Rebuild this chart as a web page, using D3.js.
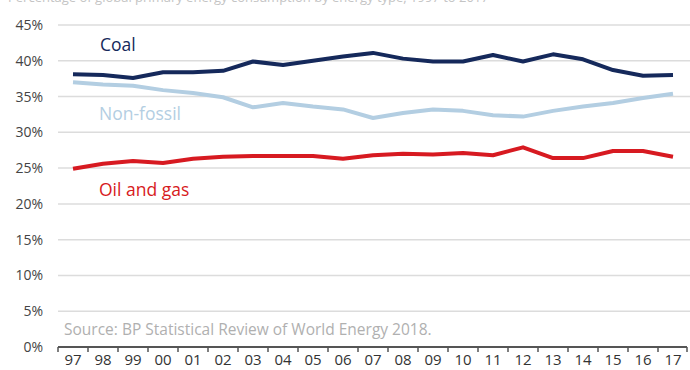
<!DOCTYPE html>
<html><head><meta charset="utf-8">
<script src="https://cdn.jsdelivr.net/npm/d3@7"></script>
<style>
html,body{margin:0;padding:0;background:#fff;}
svg{display:block;font-family:"Open Sans",sans-serif;}
</style></head>
<body><svg id="c" width="690" height="370"></svg>
<script>
const years = ["97","98","99","00","01","02","03","04","05","06","07","08","09","10","11","12","13","14","15","16","17"];
const coal = [38.1,38.0,37.6,38.4,38.4,38.6,39.9,39.4,40.0,40.6,41.1,40.3,39.9,39.9,40.8,39.9,40.9,40.2,38.7,37.9,38.0];
const nonFossil = [37.0,36.7,36.5,35.9,35.5,34.9,33.5,34.1,33.6,33.2,32.0,32.7,33.2,33.0,32.4,32.2,33.0,33.6,34.1,34.8,35.4];
const oilGas = [24.9,25.6,26.0,25.7,26.3,26.6,26.7,26.7,26.7,26.3,26.8,27.0,26.9,27.1,26.8,27.9,26.4,26.4,27.4,27.4,26.6];
const yTicks = [0,5,10,15,20,25,30,35,40,45];
const seriesNames = ["Coal","Non-fossil","Oil and gas"];
const seriesColors = ["#15295b","#b3cee2","#d71a21"];
const source = "Source: BP Statistical Review of World Energy 2018.";
const title = "Percentage of global primary energy consumption by energy type, 1997 to 2017";

const svg = d3.select("#c");
const x = d3.scaleBand().domain(years).range([58,688]);
const y = d3.scaleLinear().domain([0,45]).range([347,25]);

svg.append("text").attr("x",8).attr("y",2).attr("fill","#c4c4c4").attr("font-size",13).text(title);

// gridlines
svg.append("g").selectAll("line").data(yTicks.filter(d=>d>0)).join("line")
  .attr("x1",58).attr("x2",690).attr("y1",d=>y(d)).attr("y2",d=>y(d))
  .attr("stroke","#dcdcdc").attr("stroke-width",1.5);

// y labels
svg.append("g").selectAll("text").data(yTicks).join("text")
  .attr("x",43).attr("y",d=>y(d)+5).attr("text-anchor","end")
  .attr("font-size",14).attr("fill","#444").text(d=>d+"%");

// x axis
const xAxis = d3.axisBottom(x).tickSize(0).tickPadding(0);
const gx = svg.append("g").attr("transform","translate(0,347)").call(xAxis);
gx.select(".domain").remove();
gx.selectAll("text").attr("font-size",15).attr("fill","#333").attr("dy",null).attr("y",18)
  .style("font-family","'Open Sans',sans-serif");
svg.append("line").attr("x1",58).attr("x2",687).attr("y1",347).attr("y2",347)
  .attr("stroke","#555").attr("stroke-width",2);
const bounds = years.map(d=>x(d)).concat([x(years[years.length-1])+x.bandwidth()]);
svg.append("g").selectAll("line").data(bounds).join("line")
  .attr("x1",d=>Math.min(d,687)).attr("x2",d=>Math.min(d,687)).attr("y1",347).attr("y2",352)
  .attr("stroke","#555").attr("stroke-width",1.5);

// source
svg.append("text").attr("x",64).attr("y",335).attr("font-size",15.5).attr("fill","#b0b0b0").text(source);

// lines
const data = [coal,nonFossil,oilGas];
const line = d3.line().x((d,i)=>x(years[i])+x.bandwidth()/2).y(d=>y(d));
data.forEach((s,k)=>{
  svg.append("path").datum(s).attr("d",line).attr("fill","none")
    .attr("stroke",seriesColors[k]).attr("stroke-width",4).attr("stroke-linejoin","round");
});

// labels
const lab = [[100,51],[99,120],[99,196]];
seriesNames.forEach((n,k)=>{
  svg.append("text").attr("x",lab[k][0]).attr("y",lab[k][1]).attr("font-size",17.5)
    .attr("fill",seriesColors[k]).text(n);
});
</script></body></html>
